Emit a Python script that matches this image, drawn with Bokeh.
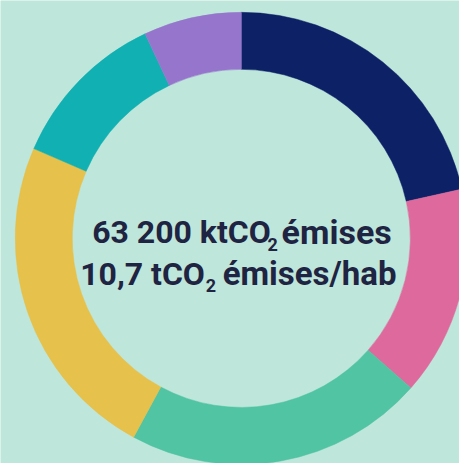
import math
from bokeh.plotting import figure
from bokeh.models import Range1d, ColumnDataSource
from bokeh.core.properties import value
from bokeh.embed import file_html
from bokeh.resources import INLINE

# Data (share of emissions, %), clockwise from 12 o'clock
sectors = ["Secteur 1", "Secteur 2", "Secteur 3", "Secteur 4", "Secteur 5", "Secteur 6"]
shares = [21.5, 15.0, 21.4, 23.6, 11.5, 7.0]
colors = ["#0d2166", "#de6a9d", "#50c4a3", "#e6c14b", "#11b0b2", "#9676cd"]

line1_main = "63 200 ktCO"
line1_sub = "2"
line1_tail = "émises"
line2_main = "10,7 tCO"
line2_sub = "2"
line2_tail = "émises/hab"

BG = "#bee6da"
TXT = "#1e2442"

total = sum(shares)
starts, ends = [], []
cum = 0.0
for s in shares:
    starts.append(math.pi / 2 - 2 * math.pi * cum / total)
    cum += s
    ends.append(math.pi / 2 - 2 * math.pi * cum / total)

src = ColumnDataSource(dict(sector=sectors, share=shares, color=colors,
                            start=starts, end=ends, x=[0] * len(shares), y=[0] * len(shares)))

# data units ~ reference pixels (467x471 mapped onto 459x463)
p = figure(width=459, height=463, x_range=Range1d(-245, 222), y_range=Range1d(-229, 242),
           output_backend="svg", toolbar_location=None, min_border=0)
p.axis.visible = False
p.grid.visible = False
p.outline_line_color = None
p.background_fill_color = BG
p.border_fill_color = BG

p.annular_wedge(x="x", y="y", inner_radius=172, outer_radius=230,
                start_angle="start", end_angle="end", direction="clock",
                color="color", line_color="color", line_width=0.5, source=src)

font = value("Roboto")
big = "32px"
small = "18px"

p.text(x=[30], y=[7], text=[line1_main], text_align="right", text_baseline="alphabetic",
       text_font=font, text_font_style="bold", text_font_size=big, text_color=TXT)
p.text(x=[32], y=[-6], text=[line1_sub], text_align="center", text_baseline="alphabetic",
       text_font=font, text_font_style="bold", text_font_size=small, text_color=TXT)
p.text(x=[41], y=[7], text=[line1_tail], text_align="left", text_baseline="alphabetic",
       text_font=font, text_font_style="bold", text_font_size="34px", text_color=TXT)

p.text(x=[-37], y=[-36], text=[line2_main], text_align="right", text_baseline="alphabetic",
       text_font=font, text_font_style="bold", text_font_size=big, text_color=TXT)
p.text(x=[-31], y=[-48], text=[line2_sub], text_align="center", text_baseline="alphabetic",
       text_font=font, text_font_style="bold", text_font_size=small, text_color=TXT)
p.text(x=[-19], y=[-36], text=[line2_tail], text_align="left", text_baseline="alphabetic",
       text_font=font, text_font_style="bold", text_font_size="33px", text_color=TXT)

open("out.html", "w").write(file_html(p, INLINE))
